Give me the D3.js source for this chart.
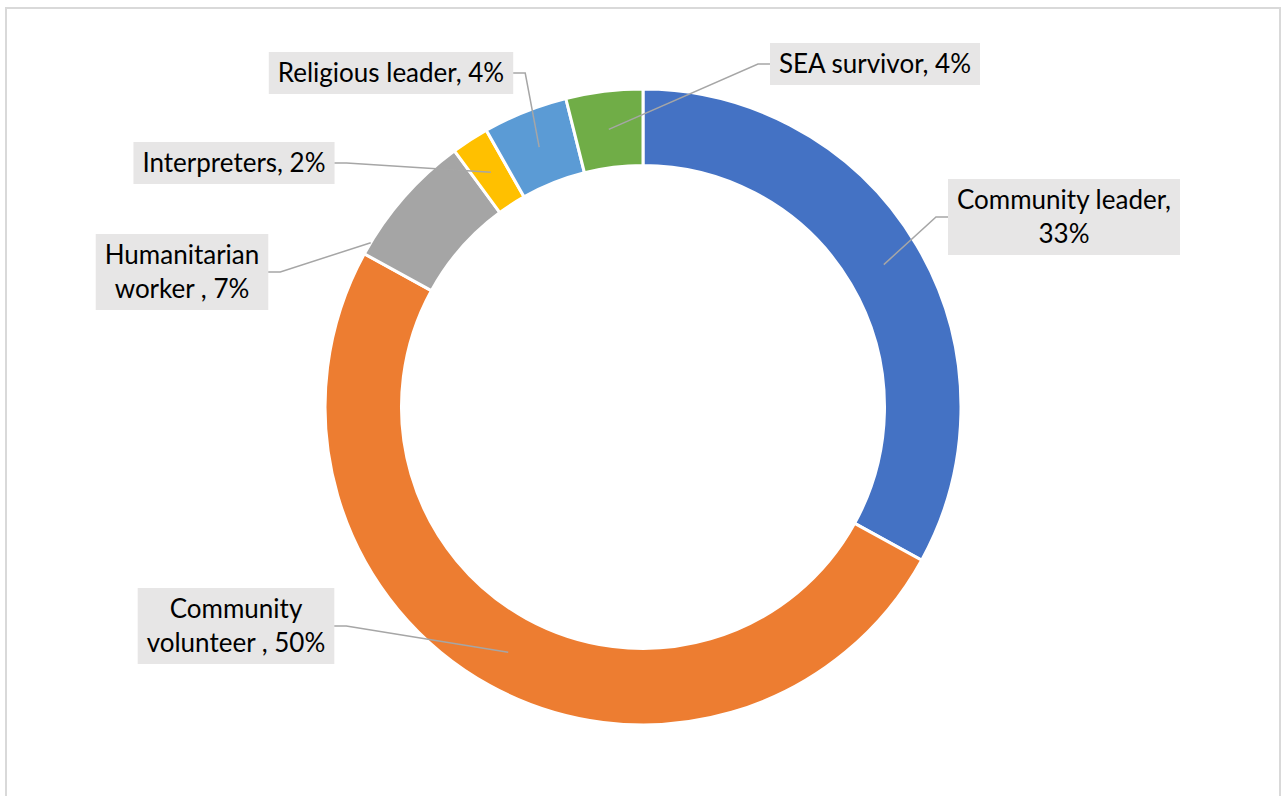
<!DOCTYPE html>
<html>
<head>
<meta charset="utf-8">
<script src="https://cdn.jsdelivr.net/npm/d3@7"></script>
<style>
  body { margin: 0; background: #fff; }
  #chart text { font-family: Lato, "Noto Sans", sans-serif; fill: #000; }
</style>
</head>
<body>
<div id="chart"></div>
<script>
// Data (in percent of respondents)
var categories = ["Community leader", "Community volunteer ", "Humanitarian worker ", "Interpreters", "Religious leader", "SEA survivor"];
var values = [33.0, 50.0, 6.9, 1.9, 4.3, 3.9];
var colors = ["#4472C4", "#ED7D31", "#A5A5A5", "#FFC000", "#5B9BD5", "#70AD47"];

// Label layout: box centre, how the text is broken, which side the leader leaves from
var labelLayout = [
  { cx: 1064, cy: 217, lines: ["Community leader,", "{p}"], side: "left", clip: false },
  { cx: 236, cy: 626, lines: ["Community", "volunteer , {p}"], side: "right", clip: false },
  { cx: 182, cy: 272, lines: ["Humanitarian", "worker , {p}"], side: "right", clip: true },
  { cx: 234, cy: 163, lines: ["Interpreters, {p}"], side: "right", clip: false },
  { cx: 391, cy: 73, lines: ["Religious leader, {p}"], side: "right", clip: false },
  { cx: 875, cy: 64, lines: ["SEA survivor, {p}"], side: "left", clip: false }
];

var W = 1282, H = 796;
var cx = 643, cy = 407, outerR = 318, innerR = 241.5;
var fontSize = 26, lineGap = 34, padX = 9, padY = 9;

var svg = d3.select("#chart").append("svg")
  .attr("width", W).attr("height", H);

// Chart area border
svg.append("rect")
  .attr("x", 6).attr("y", 8)
  .attr("width", 1274).attr("height", 820)
  .attr("fill", "#fff")
  .attr("stroke", "#d9d9d9")
  .attr("stroke-width", 2);

var data = categories.map(function(c, i) { return { name: c, value: values[i], color: colors[i], layout: labelLayout[i] }; });
var total = d3.sum(values);

var pie = d3.pie().sort(null).value(function(d) { return d.value; });
var arc = d3.arc().innerRadius(innerR).outerRadius(outerR);
var arcs = pie(data);

var g = svg.append("g").attr("transform", "translate(" + cx + "," + cy + ")");

g.selectAll("path.slice")
  .data(arcs)
  .enter()
  .append("path")
  .attr("class", "slice")
  .attr("d", arc)
  .attr("fill", function(d) { return d.data.color; })
  .attr("stroke", "#fff")
  .attr("stroke-width", 3)
  .attr("stroke-linejoin", "miter");

// Labels
var labels = svg.append("g");
var lineGroup = svg.append("g");

arcs.forEach(function(a) {
  var L = a.data.layout;
  var pct = Math.round(a.data.value / total * 100) + "%";
  var lines = L.lines.map(function(s) { return s.replace("{p}", pct); });

  var lg = labels.append("g");
  var rect = lg.append("rect").attr("fill", "#e7e6e6");
  var n = lines.length;
  var texts = lg.selectAll("text")
    .data(lines)
    .enter()
    .append("text")
    .attr("x", L.cx)
    .attr("y", function(d, i) { return L.cy + (i - (n - 1) / 2) * lineGap; })
    .attr("dy", "0.35em")
    .attr("text-anchor", "middle")
    .style("font-size", fontSize + "px")
    .text(function(d) { return d; });

  var w = d3.max(texts.nodes(), function(t) { return t.getComputedTextLength(); });
  var bw = w + 2 * padX;
  var bh = (n - 1) * lineGap + fontSize + 2 * padY - 2;
  rect.attr("x", L.cx - bw / 2).attr("y", L.cy - bh / 2)
    .attr("width", bw).attr("height", bh);

  // leader line: short horizontal stub from the box, then to the slice centroid
  var sx = L.side === "left" ? L.cx - bw / 2 : L.cx + bw / 2;
  var stubX = L.side === "left" ? sx - 12 : sx + 12;
  var c = arc.centroid(a);
  var tx = cx + c[0], ty = cy + c[1];
  if (L.clip) {
    // stop where the line reaches the outer edge of the ring
    var dx = tx - stubX, dy = ty - L.cy;
    var fx = stubX - cx, fy = L.cy - cy;
    var A = dx * dx + dy * dy, B = 2 * (fx * dx + fy * dy), C = fx * fx + fy * fy - outerR * outerR;
    var t = (-B - Math.sqrt(B * B - 4 * A * C)) / (2 * A);
    tx = stubX + t * dx; ty = L.cy + t * dy;
  }
  lineGroup.append("path")
    .attr("d", d3.line()([[sx, L.cy], [stubX, L.cy], [tx, ty]]))
    .attr("fill", "none")
    .attr("stroke", "#a6a6a6")
    .attr("stroke-width", 1.5);
});
</script>
</body>
</html>
